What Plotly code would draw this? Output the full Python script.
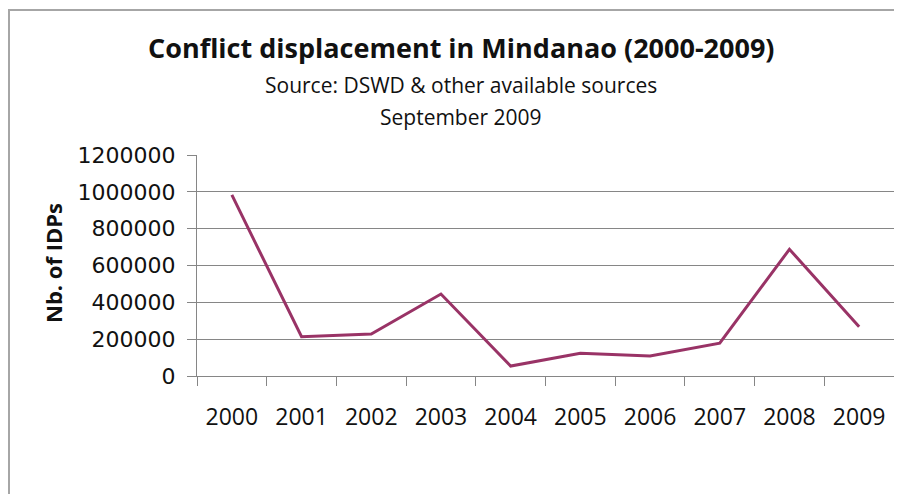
import plotly.graph_objects as go

years = ["2000", "2001", "2002", "2003", "2004", "2005", "2006", "2007", "2008", "2009"]
idps = [983000, 213000, 228000, 445000, 54000, 123000, 109000, 178000, 688000, 268000]
y_ticks = [0, 200000, 400000, 600000, 800000, 1000000, 1200000]

title = "Conflict displacement in Mindanao (2000-2009)"
subtitle1 = "Source: DSWD & other available sources"
subtitle2 = "September 2009"
y_title = "Nb. of IDPs"

GRAY = "#868686"
LINE = "#993366"
TXT = "#111111"

# page offset of the figure (default body margin of the html page)
OFF = 8
FW, FH = 902 - 2 * OFF, 502 - 2 * OFF

# plot area in page pixels: x 197..894, y 155..376
L, R, T, B = 197, 894, 155, 376
PW, PH = R - L, B - T


def px(x):
    return (x - L) / PW


def py(y):
    return (B - y) / PH


fig = go.Figure()
fig.add_trace(go.Scatter(
    x=years, y=idps, mode="lines",
    line=dict(color=LINE, width=3),
    showlegend=False, hoverinfo="x+y",
))

fig.update_layout(
    width=FW, height=FH,
    margin=dict(l=L - OFF, r=FW - (R - OFF), t=T - OFF, b=FH - (B - OFF), autoexpand=False),
    paper_bgcolor="white", plot_bgcolor="white",
    xaxis=dict(
        type="category", tickson="boundaries",
        ticks="outside", ticklen=9, tickcolor=GRAY, tickwidth=1,
        showline=True, linecolor=GRAY, linewidth=1,
        showgrid=False, zeroline=False, automargin=False,
        tickfont=dict(family="Open Sans", size=23, color=TXT),
        ticklabelstandoff=20,
        range=[-0.5, 9.5],
    ),
    yaxis=dict(
        range=[0, 1200000], tickvals=y_ticks, tickformat="d",
        ticks="outside", ticklen=9, tickcolor=GRAY, tickwidth=1,
        showline=True, linecolor=GRAY, linewidth=1,
        showgrid=True, gridcolor=GRAY, gridwidth=1,
        zeroline=False, automargin=False,
        tickfont=dict(family="DejaVu Sans", size=22, color=TXT),
        ticklabelstandoff=7,
    ),
    annotations=[
        dict(text="<b>" + title + "</b>", xref="paper", yref="paper",
             x=px(461), y=py(48), xanchor="center", yanchor="middle",
             showarrow=False, font=dict(family="Open Sans", size=27, color=TXT)),
        dict(text=subtitle1, xref="paper", yref="paper",
             x=px(461), y=py(85), xanchor="center", yanchor="middle",
             showarrow=False, font=dict(family="Open Sans", size=21, color=TXT)),
        dict(text=subtitle2, xref="paper", yref="paper",
             x=px(461), y=py(117), xanchor="center", yanchor="middle",
             showarrow=False, font=dict(family="Open Sans", size=21, color=TXT)),
        dict(text="<b>" + y_title + "</b>", xref="paper", yref="paper",
             x=px(53), y=py(263), xanchor="center", yanchor="middle", textangle=-90,
             showarrow=False, font=dict(family="Open Sans", size=22, color=TXT)),
    ],
    shapes=[
        dict(type="rect", xref="paper", yref="paper",
             x0=px(OFF + 1), x1=px(960), y0=py(560), y1=py(10),
             line=dict(color="#a6a6a6", width=2), fillcolor="rgba(0,0,0,0)", layer="below"),
    ],
)

fig.write_html("out.html")
